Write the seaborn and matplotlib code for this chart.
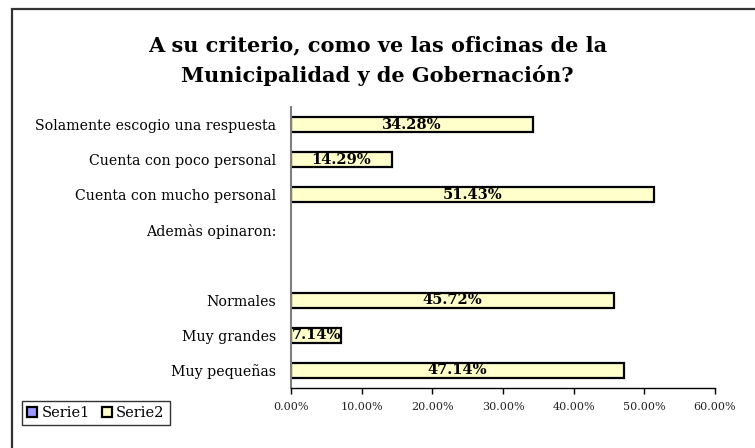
import numpy as np
import pandas as pd
import seaborn as sns
import matplotlib.pyplot as plt
from matplotlib.patches import Patch, Rectangle
from matplotlib.ticker import FuncFormatter

# data (top to bottom)
categories = ['Solamente escogio una respuesta', 'Cuenta con poco personal',
              'Cuenta con mucho personal', 'Ademàs opinaron:', ' ',
              'Normales', 'Muy grandes', 'Muy pequeñas']
serie2 = [34.28, 14.29, 51.43, np.nan, np.nan, 45.72, 7.14, 47.14]
series_names = ['Serie1', 'Serie2']
series_colors = ['#9999FF', '#FFFFCC']
x_ticks = [0, 10, 20, 30, 40, 50, 60]

df = pd.DataFrame({'cat': categories, 'val': serie2})

sns.set_style('white')
plt.rcParams['font.family'] = ['DejaVu Serif']
plt.rcParams['text.color'] = 'black'
plt.rcParams['ytick.color'] = 'black'

fig = plt.figure(figsize=(7.55, 4.48), dpi=100)
ax = fig.add_axes([291 / 755, 1 - 388 / 448, 424 / 755, 281 / 448])

sns.barplot(data=df, x='val', y='cat', order=categories, color=series_colors[1],
            saturation=1, width=0.42, edgecolor='black', linewidth=1.6, ax=ax)

# value labels inside the bars
for bar, v in zip(ax.patches, [v for v in serie2 if not np.isnan(v)]):
    ax.text(bar.get_x() + bar.get_width() / 2, bar.get_y() + bar.get_height() / 2,
            f'{v:.2f}%', ha='center', va='center', fontsize=10.5, fontweight='bold')

ax.set_xlim(0, 60)
ax.set_xticks(x_ticks)
ax.xaxis.set_major_formatter(FuncFormatter(lambda x, p: f'{x:.2f}%'))
ax.tick_params(axis='x', bottom=True, length=4, width=1, color='black',
               labelsize=8, pad=6, labelcolor='#222222')
ax.tick_params(axis='y', left=False, labelsize=10.2, pad=7, labelcolor='black')
ax.set_xlabel('')
ax.set_ylabel('')
for s in ['top', 'right']:
    ax.spines[s].set_visible(False)
ax.spines['left'].set_color('#808080')
ax.spines['left'].set_linewidth(1.5)
ax.spines['bottom'].set_color('black')
ax.spines['bottom'].set_linewidth(1)

fig.text(0.5, 1 - 45 / 448, 'A su criterio, como ve las oficinas de la',
         ha='center', va='center', fontsize=15, fontweight='bold')
fig.text(0.5, 1 - 75 / 448, 'Municipalidad y de Gobernación?',
         ha='center', va='center', fontsize=15, fontweight='bold')

handles = [Patch(facecolor=c, edgecolor='black', linewidth=1.6) for c in series_colors]
fig.legend(handles, series_names, loc='lower left',
           bbox_to_anchor=(22 / 755, 1 - 425 / 448), ncol=2, fontsize=10.5,
           frameon=True, fancybox=False, edgecolor='black', handlelength=0.7,
           handleheight=0.7, handletextpad=0.3, columnspacing=0.8,
           borderpad=0.35, borderaxespad=0)

# outer chart frame
fig.patches.append(Rectangle((12 / 755, -0.05), 1.0, 1 - 9 / 448 + 0.05,
                             transform=fig.transFigure, fill=False,
                             edgecolor='#333333', linewidth=1.6))

fig.savefig('out.png', dpi=100)
